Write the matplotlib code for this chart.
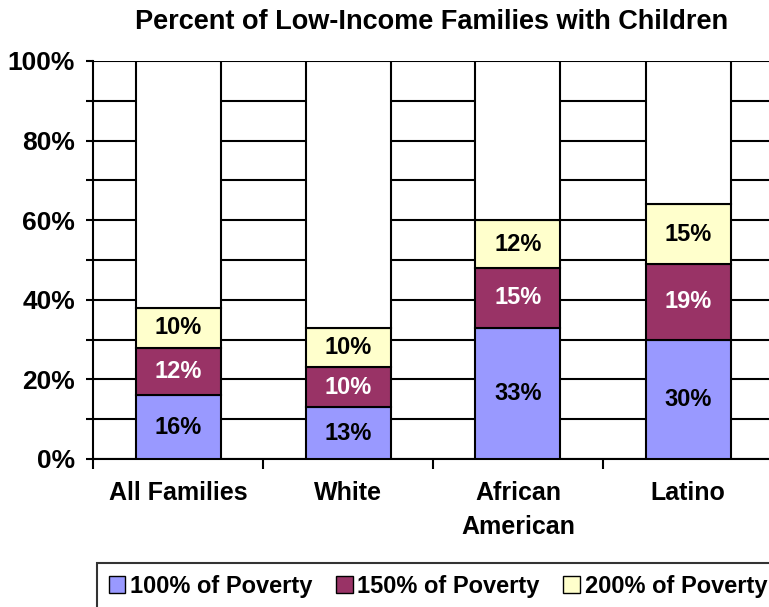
import matplotlib
matplotlib.use("Agg")
import matplotlib.pyplot as plt
from matplotlib.patches import Patch
import numpy as np

categories = ["All Families", "White", "African\nAmerican", "Latino"]
pov100 = [16, 13, 33, 30]
pov150 = [12, 10, 15, 19]
pov200 = [10, 10, 12, 15]
series_names = ["100% of Poverty", "150% of Poverty", "200% of Poverty"]
colors = ["#9999FF", "#993366", "#FFFFCC"]
text_colors = ["black", "white", "black"]
yticks = [0, 20, 40, 60, 80, 100]

plt.rcParams['font.family'] = ['Liberation Sans', 'DejaVu Sans']
plt.rcParams['font.weight'] = 'bold'

W, H = 769, 607
fig = plt.figure(figsize=(W / 100, H / 100), dpi=100)
ax = fig.add_axes([93 / W, (H - 459) / H, 680 / W, 398 / H])

x = np.arange(len(categories))
bw = 0.5
series = [pov100, pov150, pov200]
bottom = np.zeros(len(categories))
for vals, col, tc in zip(series, colors, text_colors):
    vals = np.array(vals, dtype=float)
    ax.bar(x, vals, bw, bottom=bottom, color=col, edgecolor='black', linewidth=1.5, zorder=3)
    for xi, b, v in zip(x, bottom, vals):
        ax.text(xi, b + v / 2, f"{int(v)}%", ha='center', va='center', color=tc,
                fontsize=17, fontweight='bold', zorder=4)
    bottom += vals
ax.bar(x, 100 - bottom, bw, bottom=bottom, color='white', edgecolor='black', linewidth=1.5, zorder=3)

ax.set_xlim(-0.5, len(categories) - 0.5)
ax.set_ylim(0, 100)
ax.set_yticks(yticks)
ax.set_yticklabels([f"{v}%" for v in yticks], fontsize=19, fontweight='bold')
ax.set_yticks(np.arange(10, 100, 20), minor=True)
ax.tick_params(axis='y', which='both', direction='out', length=5, width=1.5, pad=8)
ax.yaxis.grid(True, which='both', color='black', linewidth=1.5, zorder=0)

ax.set_xticks(np.arange(-0.5, len(categories) - 0.5, 1))
ax.set_xticklabels([])
ax.set_xticks(x, minor=True)
ax.set_xticklabels(categories, minor=True, fontsize=18, fontweight='bold', linespacing=1.5)
ax.tick_params(axis='x', which='major', direction='out', length=7, width=1.5)
ax.tick_params(axis='x', which='minor', length=0, pad=16)
ax.set_axisbelow(True)

for s in ['top', 'right']:
    ax.spines[s].set_visible(False)
for s in ['left', 'bottom']:
    ax.spines[s].set_linewidth(1.5)

fig.text(432 / W, 1 - 22 / H, "Percent of Low-Income Families with Children",
         ha='center', va='center', fontsize=19.5, fontweight='bold')

handles = [Patch(facecolor=c, edgecolor='black', linewidth=1) for c in colors]
leg = fig.legend(handles, series_names, loc='upper left', bbox_to_anchor=(97 / W, 1 - 563 / H),
                 ncol=3, fancybox=False, frameon=True, edgecolor='black',
                 prop={'weight': 'bold', 'size': 17}, handlelength=0.7, handleheight=0.7,
                 handletextpad=0.2, columnspacing=1.0, borderaxespad=0, borderpad=0.5)
leg.get_frame().set_linewidth(1.5)

fig.savefig("out.png", dpi=100)
